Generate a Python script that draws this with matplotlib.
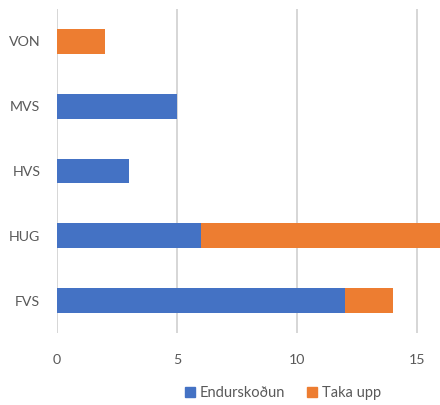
import matplotlib.pyplot as plt
from matplotlib.patches import Patch

categories = ['FVS', 'HUG', 'HVS', 'MVS', 'VON']
endurskodun = [12, 6, 3, 5, 0]
taka_upp = [2, 10, 0, 0, 2]
x_ticks = [0, 5, 10, 15]

BLUE = '#4472C4'
ORANGE = '#ED7D31'
TEXT = '#595959'

plt.rcParams['font.family'] = ['Lato', 'DejaVu Sans']

fig = plt.figure(figsize=(4.4, 4.05), dpi=100)
ax = fig.add_axes([57 / 440, 72 / 405, 1 - 57 / 440, 324 / 405])

ax.barh(categories, endurskodun, height=0.38, color=BLUE, label='Endurskoðun', zorder=3)
ax.barh(categories, taka_upp, left=endurskodun, height=0.38, color=ORANGE,
        label='Taka upp', zorder=3)

ax.set_xlim(0, 15.96)
ax.set_ylim(-0.5, 4.5)
ax.set_xticks(x_ticks)
ax.xaxis.grid(True, color='#d0d0d0', linewidth=1.2, zorder=0)
for s in ax.spines.values():
    s.set_visible(False)
ax.tick_params(axis='both', length=0, labelsize=10.2, labelcolor=TEXT)
ax.tick_params(axis='y', pad=12)
ax.tick_params(axis='x', pad=15)

handles = [Patch(color=BLUE), Patch(color=ORANGE)]
fig.legend(handles, ['Endurskoðun', 'Taka upp'], loc='center', ncol=2,
           bbox_to_anchor=(283 / 440, 12 / 405), frameon=False, fontsize=10.5,
           labelcolor=TEXT, handlelength=0.7, handleheight=0.7, handletextpad=0.3,
           columnspacing=1.5)

fig.savefig('out.png', dpi=100)
